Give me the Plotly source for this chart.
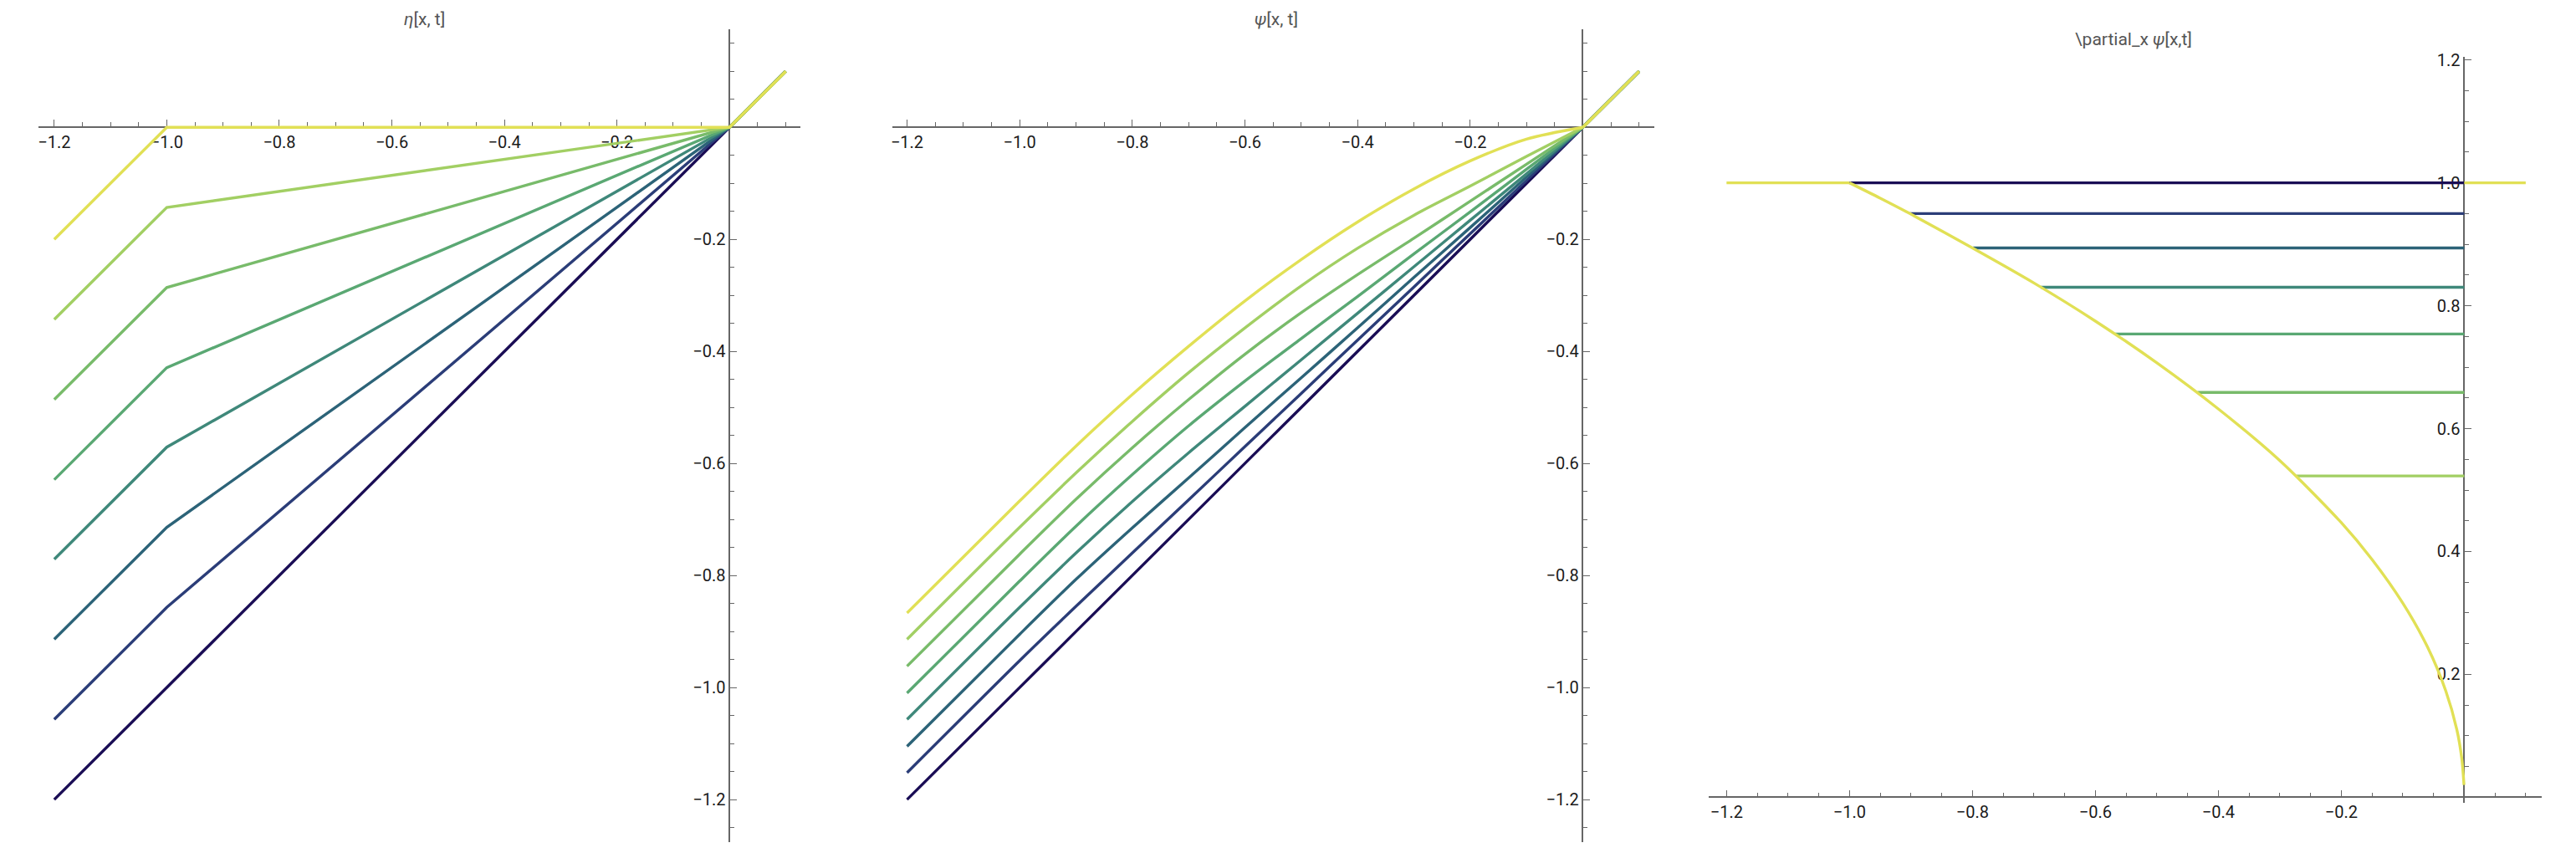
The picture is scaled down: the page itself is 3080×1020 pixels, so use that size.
import plotly.graph_objects as go

W, H = 3080, 1020

# ---------------- data ----------------
line_colors = ["#1a0d55", "#2b3d78", "#2c6378", "#3f887a",
               "#5aa873", "#78bb6a", "#a2cf63", "#e1e055"]

# Panel 1: eta[x, t]  (one row per time step, dark -> yellow)
eta_x = [-1.2, -1.0, 0.0, 0.1]
eta_values = [
    [-1.2,   -1.0,   0.0, 0.1],
    [-1.057, -0.857, 0.0, 0.1],
    [-0.914, -0.714, 0.0, 0.1],
    [-0.771, -0.571, 0.0, 0.1],
    [-0.629, -0.429, 0.0, 0.1],
    [-0.486, -0.286, 0.0, 0.1],
    [-0.343, -0.143, 0.0, 0.1],
    [-0.2,    0.0,   0.0, 0.1],
]

# Panel 2: psi[x, t]
psi_x = [-1.2, -1.0, -0.9, -0.8, -0.7, -0.6, -0.5, -0.4, -0.3, -0.2, -0.1, 0.0]
psi_values = [
    [-1.2,   -1.0,   -0.9,   -0.8,   -0.7,   -0.6,   -0.5,   -0.4,   -0.3,   -0.2,   -0.1,   0.0],
    [-1.152, -0.952, -0.855, -0.760, -0.665, -0.570, -0.475, -0.380, -0.285, -0.190, -0.095, 0.0],
    [-1.105, -0.905, -0.807, -0.715, -0.626, -0.536, -0.447, -0.358, -0.268, -0.179, -0.089, 0.0],
    [-1.057, -0.857, -0.760, -0.668, -0.581, -0.498, -0.415, -0.332, -0.249, -0.166, -0.083, 0.0],
    [-1.010, -0.810, -0.712, -0.620, -0.533, -0.453, -0.377, -0.302, -0.226, -0.151, -0.075, 0.0],
    [-0.962, -0.762, -0.664, -0.572, -0.486, -0.405, -0.331, -0.263, -0.198, -0.132, -0.066, 0.0],
    [-0.914, -0.714, -0.617, -0.525, -0.438, -0.358, -0.283, -0.216, -0.157, -0.105, -0.052, 0.0],
    [-0.867, -0.667, -0.569, -0.477, -0.391, -0.310, -0.236, -0.169, -0.110, -0.060, -0.021, 0.0],
]
psi_right_x = [0.0, 0.1]
psi_right_y = [0.0, 0.1]

# Panel 3: d/dx psi[x, t]
dpsi_levels = [1.0, 0.950, 0.894, 0.830, 0.754, 0.659, 0.523]
dpsi_start_x = [-1.0, -0.902, -0.799, -0.689, -0.568, -0.434, -0.273]
dpsi_left_x = [-1.2, -1.0]
dpsi_left_y = [1.0, 1.0]
envelope_x = [-1.0, -0.95, -0.9, -0.8, -0.7, -0.6, -0.5, -0.4, -0.3, -0.2,
              -0.15, -0.1, -0.06, -0.03, -0.012, -0.004, -0.0004]
envelope_y = [1.0, 0.975, 0.949, 0.894, 0.837, 0.775, 0.707, 0.632, 0.548, 0.447,
              0.387, 0.316, 0.245, 0.173, 0.110, 0.063, 0.020]
dpsi_right_x = [0.0, 0.1]
dpsi_right_y = [1.0, 1.0]

# tick labels
tick_neg = [-1.2, -1.0, -0.8, -0.6, -0.4, -0.2]
tick_pos = [0.2, 0.4, 0.6, 0.8, 1.0, 1.2]
titles = ["<i>η</i>[x, t]", "<i>ψ</i>[x, t]", r"\partial_x <i>ψ</i>[x,t]"]

# ---------------- figure ----------------
fig = go.Figure()
LW = 3.4

for k, c in enumerate(line_colors):
    fig.add_trace(go.Scatter(x=eta_x, y=eta_values[k], mode="lines",
                             line=dict(color=c, width=LW), xaxis="x", yaxis="y"))

for k, c in enumerate(line_colors):
    xs = psi_x + [None] + psi_right_x
    ys = psi_values[k] + [None] + psi_right_y
    fig.add_trace(go.Scatter(x=xs, y=ys, mode="lines", connectgaps=False,
                             line=dict(color=c, width=LW, shape="spline", smoothing=0.8),
                             xaxis="x2", yaxis="y2"))

for k in range(len(dpsi_levels)):
    fig.add_trace(go.Scatter(x=[dpsi_start_x[k], 0.0], y=[dpsi_levels[k], dpsi_levels[k]],
                             mode="lines", line=dict(color=line_colors[k], width=LW),
                             xaxis="x3", yaxis="y3"))
yx = dpsi_left_x + [None] + envelope_x + [None] + dpsi_right_x
yy = dpsi_left_y + [None] + envelope_y + [None] + dpsi_right_y
fig.add_trace(go.Scatter(x=yx, y=yy, mode="lines", connectgaps=False,
                         line=dict(color=line_colors[-1], width=LW, shape="spline", smoothing=0.8),
                         xaxis="x3", yaxis="y3"))

# panel geometry (pixels)
panels = [
    dict(px=(46, 957), py=(35, 1007), xr=[-1.228, 0.126], yr=[-1.276, 0.175],
         yt=tick_neg, title_xy=(507, 23)),
    dict(px=(1067, 1978), py=(35, 1007), xr=[-1.226, 0.127], yr=[-1.276, 0.175],
         yt=tick_neg, title_xy=(1526, 23)),
    dict(px=(2043, 3039), py=(68, 960), xr=[-1.229, 0.126], yr=[-0.009, 1.205],
         yt=tick_pos, title_xy=(2551, 47)),
]

AXC = "#666666"
FONT = "Roboto, Arial, sans-serif"
tickfont = dict(family=FONT, size=20, color="#1a1a1a")
layout = dict(width=W, height=H, margin=dict(l=0, r=0, t=0, b=0, pad=0),
              paper_bgcolor="white", plot_bgcolor="white", showlegend=False)
annotations = []
for i, p in enumerate(panels):
    xd = [p["px"][0] / W, p["px"][1] / W]
    yd = [1 - p["py"][1] / H, 1 - p["py"][0] / H]
    xr, yr = p["xr"], p["yr"]
    xpos = yd[0] + (0 - yr[0]) / (yr[1] - yr[0]) * (yd[1] - yd[0])
    ypos = xd[0] + (0 - xr[0]) / (xr[1] - xr[0]) * (xd[1] - xd[0])
    sfx = "" if i == 0 else str(i + 1)
    common = dict(showline=True, linecolor=AXC, linewidth=1.5, ticks="inside",
                  ticklen=8, tickwidth=1.3, tickcolor=AXC, showgrid=False,
                  zeroline=False, tickfont=tickfont, tickmode="array",
                  layer="below traces", anchor="free", automargin=False,
                  minor=dict(ticks="inside", ticklen=5, tickwidth=1.1, tickcolor=AXC,
                             tickmode="linear", dtick=0.05, tick0=0, showgrid=False))
    layout["xaxis" + sfx] = dict(domain=xd, range=xr, position=xpos,
                                 tickvals=tick_neg, ticktext=[f"−{abs(v):.1f}" for v in tick_neg],
                                 **common)
    layout["yaxis" + sfx] = dict(domain=yd, range=yr, position=ypos, side="left",
                                 tickvals=p["yt"],
                                 ticktext=[(f"−{abs(v):.1f}" if v < 0 else f"{v:.1f}") for v in p["yt"]],
                                 **common)
    annotations.append(dict(text=titles[i], xref="paper", yref="paper",
                            x=p["title_xy"][0] / W, y=1 - p["title_xy"][1] / H,
                            xanchor="center", yanchor="middle", showarrow=False,
                            font=dict(family=FONT, size=21, color="#555555")))
layout["annotations"] = annotations
fig.update_layout(**layout)
fig.write_html("out.html", config={"displayModeBar": False},
               post_script="document.body.style.margin='0px';document.body.style.overflow='hidden';")
